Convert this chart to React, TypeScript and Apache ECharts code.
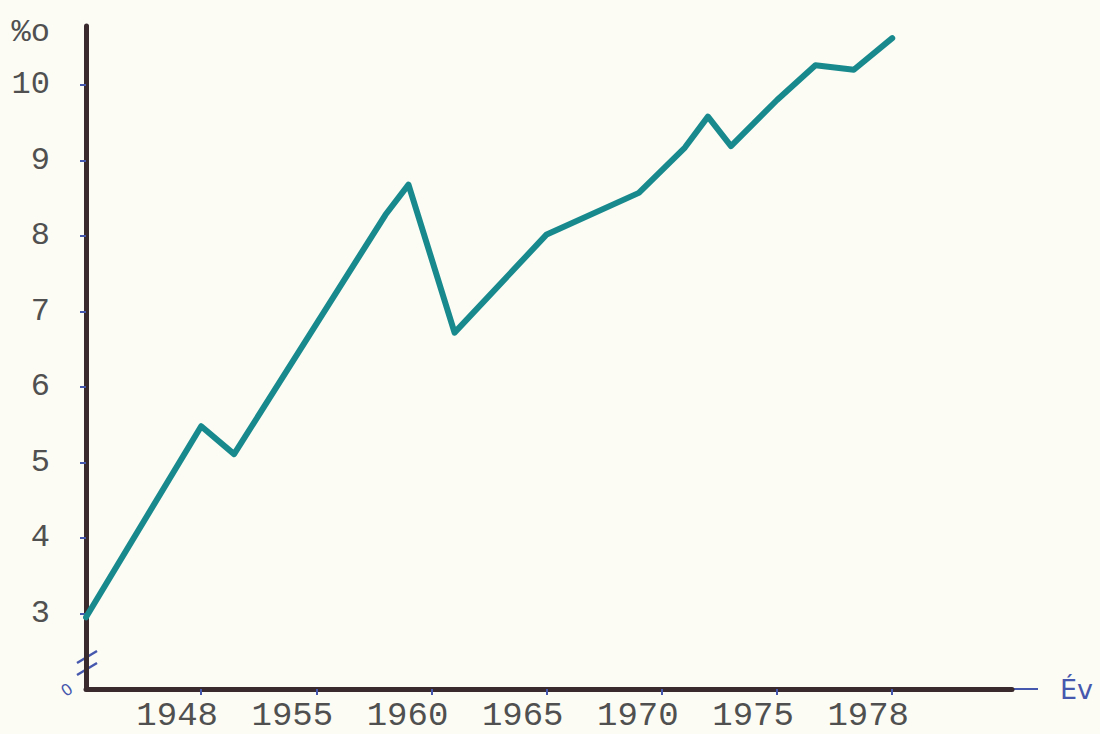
import React, { useEffect, useRef } from "react";
import * as echarts from "echarts";

// Labelled ticks of the hand-drawn year axis (evenly spaced on paper)
const TICK_YEARS = [1948, 1955, 1960, 1965, 1970, 1975, 1978];
// Unlabelled origin of the year axis (one tick step before 1948)
const ORIGIN_YEAR = 1938;
// Observed points of the curve
const YEARS = [1938, 1948, 1950, 1958, 1959, 1961, 1965, 1969, 1971, 1972, 1973, 1975, 1976, 1977, 1978];
const RATES = [2.95, 5.48, 5.11, 8.28, 8.68, 6.72, 8.02, 8.57, 9.17, 9.58, 9.19, 9.8, 10.26, 10.2, 10.62];
// Per-mille ticks on the vertical axis
const Y_TICKS = [3, 4, 5, 6, 7, 8, 9, 10];
const Y_UNIT = "%o";
const X_NAME = "Év";

// The paper axis spaces the labelled years evenly: map a year to its slot
const ANCHORS = [ORIGIN_YEAR, ...TICK_YEARS];
function toSlot(year: number): number {
  for (let i = 0; i < ANCHORS.length - 1; i++) {
    const a = ANCHORS[i];
    const b = ANCHORS[i + 1];
    if (year <= b || i === ANCHORS.length - 2) {
      return i - 1 + (year - a) / (b - a);
    }
  }
  return ANCHORS.length - 2;
}

const INK = "#3a2a2e";
const BLUE = "#4658ad";
const TEAL = "#188a8e";
const TYPE = "#505050";
const MONO = "'Liberation Mono', 'DejaVu Sans Mono', monospace";

export default function App() {
  const ref = useRef<HTMLDivElement>(null);
  useEffect(() => {
    if (!ref.current) return;
    const chart = echarts.init(ref.current, null, { renderer: "svg" });
    const slotTicks = TICK_YEARS.map((_, i) => i);
    chart.setOption({
      animation: false,
      backgroundColor: "#fcfcf4",
      grid: { left: 86, right: 88, top: 26, bottom: 45 },
      xAxis: {
        type: "value",
        min: -1,
        max: 7.04,
        interval: 1,
        name: X_NAME,
        nameLocation: "end",
        nameGap: 48,
        nameTextStyle: {
          color: BLUE,
          fontSize: 27,
          fontFamily: "'DejaVu Sans', sans-serif",
          verticalAlign: "middle",
          align: "left",
          padding: [0, 0, 4, 0],
        },
        axisLine: { show: true, onZero: false, lineStyle: { color: INK, width: 5 } },
        axisTick: {
          show: true,
          customValues: slotTicks,
          length: 6,
          lineStyle: { color: BLUE, width: 2 },
        },
        axisLabel: {
          customValues: slotTicks,
          formatter: (v: number) => {
            const t = TICK_YEARS[Math.round(v)];
            return t === undefined ? "" : String(t);
          },
          fontFamily: MONO,
          fontSize: 34,
          color: TYPE,
          margin: 10,
          padding: [0, 48, 0, 0],
        },
        splitLine: { show: false },
      },
      yAxis: {
        type: "value",
        min: 2,
        max: 10.78,
        interval: 1,
        name: Y_UNIT,
        nameLocation: "end",
        nameGap: -6,
        nameTextStyle: {
          color: TYPE,
          fontSize: 32,
          fontFamily: MONO,
          align: "right",
          verticalAlign: "middle",
          padding: [0, 36, 0, 0],
        },
        axisLine: { show: true, onZero: false, lineStyle: { color: INK, width: 5 } },
        axisTick: {
          show: true,
          customValues: Y_TICKS,
          length: 6,
          lineStyle: { color: BLUE, width: 2 },
        },
        axisLabel: {
          customValues: Y_TICKS,
          fontFamily: MONO,
          fontSize: 32,
          color: TYPE,
          margin: 36,
        },
        splitLine: { show: false },
      },
      series: [
        {
          type: "line",
          data: YEARS.map((y, i) => [toSlot(y), RATES[i]]),
          symbol: "none",
          lineStyle: { color: TEAL, width: 6, cap: "round", join: "round" },
          z: 3,
        },
      ],
      graphic: [
        {
          type: "line",
          shape: { x1: 1012, y1: 689, x2: 1038, y2: 689 },
          style: { stroke: BLUE, lineWidth: 2 },
        },
        {
          type: "line",
          shape: { x1: 77, y1: 663, x2: 97, y2: 651 },
          style: { stroke: BLUE, lineWidth: 2.5 },
        },
        {
          type: "line",
          shape: { x1: 77, y1: 675, x2: 97, y2: 663 },
          style: { stroke: BLUE, lineWidth: 2.5 },
        },
        {
          type: "text",
          x: 58,
          y: 686,
          rotation: 0.6,
          style: {
            text: "0",
            fill: BLUE,
            fontSize: 16,
            fontFamily: "'DejaVu Sans', sans-serif",
          },
        },
      ],
    });
    return () => chart.dispose();
  }, []);
  return (
    <div
      ref={ref}
      style={{ position: "fixed", left: 0, top: 0, width: 1100, height: 734 }}
    />
  );
}
